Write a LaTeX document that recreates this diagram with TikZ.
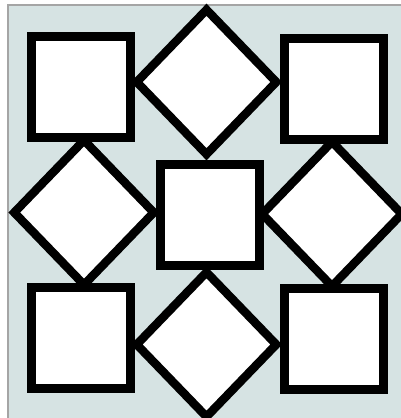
\documentclass[tikz,border=0pt]{standalone}
\usetikzlibrary{shapes.geometric}
\definecolor{bgcol}{RGB}{214,227,227}
\definecolor{edgecol}{RGB}{165,165,165}
\tikzset{
  sq/.style={draw=black, fill=white, line width=9pt, rectangle, inner sep=0pt,
    minimum width=99pt, minimum height=101pt},
  dm/.style={draw=black, fill=white, line width=8.5pt, diamond, inner sep=0pt,
    minimum width=143pt, minimum height=148pt},
}
\begin{document}
\begin{tikzpicture}[x=1pt,y=-1pt]
\useasboundingbox (0,0) rectangle (401,418);
\fill[bgcol] (8,5) rectangle (401,418);
\draw[edgecol, line width=1.2pt] (8,418) -- (8,5) -- (401,5);
% diamonds
\node[dm] (dtop) at (206.5,82) {};
\node[dm] (dleft) at (84,212.5) {};
\node[dm] (dright) at (332,214) {};
\node[dm] (dbot) at (206.5,344.5) {};
% squares
\node[sq] (tl) at (81,86.5) {};
\node[sq] (tr) at (334,88.5) {};
\node[sq] (cc) at (209.5,215) {};
\node[sq] (bl) at (81,338) {};
\node[sq] (br) at (334,338.5) {};
\end{tikzpicture}
\end{document}
